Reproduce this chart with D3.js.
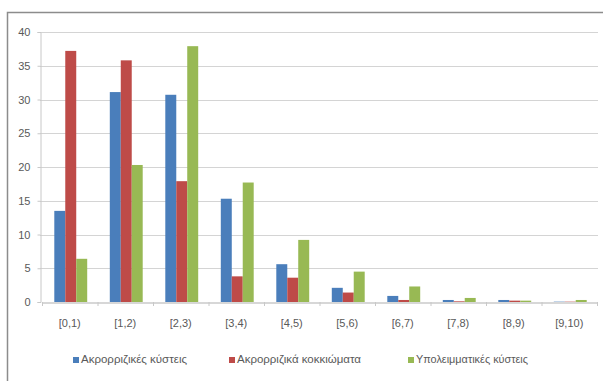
<!DOCTYPE html>
<html>
<head>
<meta charset="utf-8">
<script src="https://cdn.jsdelivr.net/npm/d3@7"></script>
<style>
  html, body { margin: 0; padding: 0; background: #fff; }
  svg { display: block; font-family: "Liberation Sans", "DejaVu Sans", sans-serif; }
</style>
</head>
<body>
<div id="chart"></div>
<script>
'use strict';

const categories = ['[0,1)', '[1,2)', '[2,3)', '[3,4)', '[4,5)', '[5,6)', '[6,7)', '[7,8)', '[8,9)', '[9,10)'];
const seriesNames = ['Ακρορριζικές κύστεις', 'Ακρορριζικά κοκκιώματα', 'Υπολειμματικές κύστεις'];
const cysts      = [13.5, 31.1, 30.7, 15.3, 5.6, 2.1, 0.9, 0.3, 0.3, 0.05];
const granulomas = [37.2, 35.8, 17.9, 3.8, 3.6, 1.4, 0.3, 0.1, 0.2, 0.05];
const residual   = [6.4, 20.3, 37.9, 17.7, 9.2, 4.5, 2.3, 0.6, 0.2, 0.3];
const yTicks = [0, 5, 10, 15, 20, 25, 30, 35, 40];
const COLORS = ['#4a7ebb', '#be4b48', '#98b954'];

const W = 603, H = 381;
const plot = { left: 40, right: 598, top: 32, bottom: 302 };

const svg = d3.select('#chart').append('svg').attr('width', W).attr('height', H);

// frame (only top & left edges are visible in the crop)
svg.append('path')
  .attr('d', `M7.5,${H} V12.5 H${W}`)
  .attr('fill', 'none').attr('stroke', '#8c8c8c').attr('stroke-width', 1.5);

const x = d3.scaleBand().domain(categories).range([plot.left + 2, plot.right - 1]);
const xs = d3.scaleBand().domain(d3.range(3)).range([0, x.bandwidth()]).paddingOuter(1.03).paddingInner(0);
const y = d3.scaleLinear().domain([0, 40]).range([plot.bottom, plot.top]);

// gridlines
svg.append('g').selectAll('line').data(yTicks.filter(t => t > 0)).join('line')
  .attr('x1', plot.left).attr('x2', plot.right)
  .attr('y1', d => Math.round(y(d)) + 0.5).attr('y2', d => Math.round(y(d)) + 0.5)
  .attr('stroke', '#d4d4d4').attr('stroke-width', 1.2);

// y axis
const yAxis = svg.append('g').attr('transform', `translate(${plot.left + 0.5},0)`)
  .call(d3.axisLeft(y).tickValues(yTicks).tickSize(3).tickPadding(7));
yAxis.select('.domain').attr('stroke', '#c8c8c8');
yAxis.selectAll('.tick line').attr('stroke', '#c8c8c8');
yAxis.selectAll('text').attr('font-size', 11).attr('fill', '#595959');

// bars
const allSeries = [cysts, granulomas, residual];
allSeries.forEach((vals, si) => {
  svg.append('g').selectAll('rect').data(vals).join('rect')
    .attr('x', (d, i) => x(categories[i]) + xs(si) + 1)
    .attr('width', xs.bandwidth())
    .attr('y', d => y(d))
    .attr('height', d => y(0) - y(d))
    .attr('fill', COLORS[si]);
});

// x axis
const xAxis = svg.append('g').attr('transform', `translate(0,${plot.bottom + 0.5})`)
  .call(d3.axisBottom(x).tickSize(0).tickPadding(17));
xAxis.select('.domain').attr('stroke', '#b0b0b0').attr('stroke-width', 1.2);
xAxis.selectAll('text').attr('font-size', 11).attr('fill', '#595959');
svg.append('g').selectAll('line').data(d3.range(categories.length + 1)).join('line')
  .attr('x1', i => x.range()[0] + i * x.step() + 0.5).attr('x2', i => x.range()[0] + i * x.step() + 0.5)
  .attr('y1', plot.bottom).attr('y2', plot.bottom + 4)
  .attr('stroke', '#c8c8c8');

// legend
const legendX = [73, 229, 408];
const lg = svg.append('g').selectAll('g').data(seriesNames).join('g')
  .attr('transform', (d, i) => `translate(${legendX[i]},357)`);
lg.append('rect').attr('width', 6).attr('height', 6).attr('fill', (d, i) => COLORS[i]);
lg.append('text').attr('x', 8).attr('y', 6).attr('font-size', 10).attr('fill', '#595959')
  .attr('textLength', (d, i) => [106, 124, 112][i]).attr('lengthAdjust', 'spacingAndGlyphs')
  .text(d => d);
</script>
</body>
</html>
